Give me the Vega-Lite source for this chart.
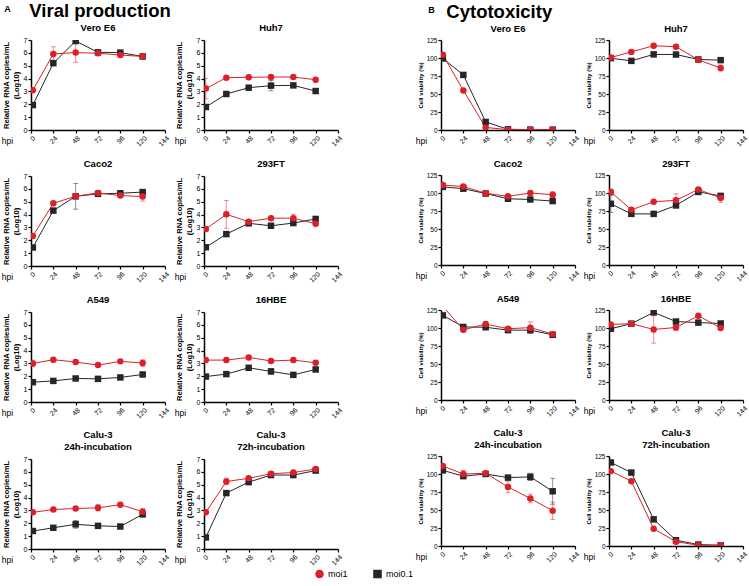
{
"$schema":"https://vega.github.io/schema/vega-lite/v6.json",
"padding":{"left":1,"top":2,"right":2,"bottom":2},
"background":"white",
"config":{
 "view":{"stroke":null},
 "font":"Liberation Sans",
 "axis":{"domainColor":"#000","domainWidth":1.5,"tickColor":"#000","tickSize":3,"tickWidth":1.2,"labelFontSize":7,"labelColor":"#000","grid":false,"titleFontSize":7.6,"titleFontWeight":"bold","titleColor":"#000","labelPadding":1,"titlePadding":3},
 "axisX":{"titleAngle":0,"titleFontWeight":"normal","titleFontSize":8.5,"titleY":10,"titleAlign":"center","titleBaseline":"middle"},
 "title":{"fontSize":9.5,"fontWeight":"bold","frame":"group","offset":4,"color":"#000"},
 "legend":{"direction":"horizontal","labelFontSize":9,"symbolSize":50,"symbolOpacity":1,"columnPadding":22,"title":null}
},
"datasets":{"d":[
{"c":"A1","s":"moi0.1","t":2,"v":1.94},{"c":"A1","s":"moi0.1","t":24,"v":5.2},{"c":"A1","s":"moi0.1","t":48,"v":6.92},{"c":"A1","s":"moi0.1","t":72,"v":6.04},{"c":"A1","s":"moi0.1","t":96,"v":6.02},{"c":"A1","s":"moi0.1","t":120,"v":5.72},
{"c":"A1","s":"moi1","t":2,"v":3.1},{"c":"A1","s":"moi1","t":24,"v":5.92,"e":0.55},{"c":"A1","s":"moi1","t":48,"v":6.02,"e":0.75},{"c":"A1","s":"moi1","t":72,"v":5.97},{"c":"A1","s":"moi1","t":96,"v":5.83},{"c":"A1","s":"moi1","t":120,"v":5.72},
{"c":"A2","s":"moi0.1","t":2,"v":1.79},{"c":"A2","s":"moi0.1","t":24,"v":2.8},{"c":"A2","s":"moi0.1","t":48,"v":3.29},{"c":"A2","s":"moi0.1","t":72,"v":3.45,"e":0.4},{"c":"A2","s":"moi0.1","t":96,"v":3.47},{"c":"A2","s":"moi0.1","t":120,"v":3.03},
{"c":"A2","s":"moi1","t":2,"v":3.22,"e":0.8},{"c":"A2","s":"moi1","t":24,"v":4.07},{"c":"A2","s":"moi1","t":48,"v":4.1},{"c":"A2","s":"moi1","t":72,"v":4.12},{"c":"A2","s":"moi1","t":96,"v":4.12},{"c":"A2","s":"moi1","t":120,"v":3.91},
{"c":"A3","s":"moi0.1","t":2,"v":1.44},{"c":"A3","s":"moi0.1","t":24,"v":4.31},{"c":"A3","s":"moi0.1","t":48,"v":5.42,"e":1.0},{"c":"A3","s":"moi0.1","t":72,"v":5.61},{"c":"A3","s":"moi0.1","t":96,"v":5.66},{"c":"A3","s":"moi0.1","t":120,"v":5.75,"e":0.1},
{"c":"A3","s":"moi1","t":2,"v":2.34},{"c":"A3","s":"moi1","t":24,"v":4.88},{"c":"A3","s":"moi1","t":48,"v":5.43},{"c":"A3","s":"moi1","t":72,"v":5.68},{"c":"A3","s":"moi1","t":96,"v":5.48},{"c":"A3","s":"moi1","t":120,"v":5.4,"e":0.35},
{"c":"A4","s":"moi0.1","t":2,"v":1.46},{"c":"A4","s":"moi0.1","t":24,"v":2.48},{"c":"A4","s":"moi0.1","t":48,"v":3.32},{"c":"A4","s":"moi0.1","t":72,"v":3.13},{"c":"A4","s":"moi0.1","t":96,"v":3.34},{"c":"A4","s":"moi0.1","t":120,"v":3.66},
{"c":"A4","s":"moi1","t":2,"v":2.88},{"c":"A4","s":"moi1","t":24,"v":4.02,"e":1.08},{"c":"A4","s":"moi1","t":48,"v":3.45},{"c":"A4","s":"moi1","t":72,"v":3.72},{"c":"A4","s":"moi1","t":96,"v":3.72,"e":0.3},{"c":"A4","s":"moi1","t":120,"v":3.29},
{"c":"A5","s":"moi0.1","t":2,"v":1.54},{"c":"A5","s":"moi0.1","t":24,"v":1.64},{"c":"A5","s":"moi0.1","t":48,"v":1.83},{"c":"A5","s":"moi0.1","t":72,"v":1.8},{"c":"A5","s":"moi0.1","t":96,"v":1.91},{"c":"A5","s":"moi0.1","t":120,"v":2.14},
{"c":"A5","s":"moi1","t":2,"v":3.0,"e":0.25},{"c":"A5","s":"moi1","t":24,"v":3.29},{"c":"A5","s":"moi1","t":48,"v":3.11},{"c":"A5","s":"moi1","t":72,"v":2.87},{"c":"A5","s":"moi1","t":96,"v":3.16},{"c":"A5","s":"moi1","t":120,"v":3.03,"e":0.25},
{"c":"A6","s":"moi0.1","t":2,"v":1.98},{"c":"A6","s":"moi0.1","t":24,"v":2.17},{"c":"A6","s":"moi0.1","t":48,"v":2.66},{"c":"A6","s":"moi0.1","t":72,"v":2.38,"e":0.2},{"c":"A6","s":"moi0.1","t":96,"v":2.11},{"c":"A6","s":"moi0.1","t":120,"v":2.53},
{"c":"A6","s":"moi1","t":2,"v":3.26},{"c":"A6","s":"moi1","t":24,"v":3.26},{"c":"A6","s":"moi1","t":48,"v":3.47},{"c":"A6","s":"moi1","t":72,"v":3.19},{"c":"A6","s":"moi1","t":96,"v":3.26},{"c":"A6","s":"moi1","t":120,"v":3.05},
{"c":"A7","s":"moi0.1","t":2,"v":1.4},{"c":"A7","s":"moi0.1","t":24,"v":1.65},{"c":"A7","s":"moi0.1","t":48,"v":1.92,"e":0.3},{"c":"A7","s":"moi0.1","t":72,"v":1.8},{"c":"A7","s":"moi0.1","t":96,"v":1.75},{"c":"A7","s":"moi0.1","t":120,"v":2.7,"e":0.2},
{"c":"A7","s":"moi1","t":2,"v":2.85},{"c":"A7","s":"moi1","t":24,"v":3.07},{"c":"A7","s":"moi1","t":48,"v":3.15},{"c":"A7","s":"moi1","t":72,"v":3.2,"e":0.25},{"c":"A7","s":"moi1","t":96,"v":3.45},{"c":"A7","s":"moi1","t":120,"v":2.9,"e":0.25},
{"c":"A8","s":"moi0.1","t":2,"v":0.9},{"c":"A8","s":"moi0.1","t":24,"v":4.35},{"c":"A8","s":"moi0.1","t":48,"v":5.2},{"c":"A8","s":"moi0.1","t":72,"v":5.75},{"c":"A8","s":"moi0.1","t":96,"v":5.75},{"c":"A8","s":"moi0.1","t":120,"v":6.1},
{"c":"A8","s":"moi1","t":2,"v":2.85},{"c":"A8","s":"moi1","t":24,"v":5.25,"e":0.25},{"c":"A8","s":"moi1","t":48,"v":5.5},{"c":"A8","s":"moi1","t":72,"v":5.85},{"c":"A8","s":"moi1","t":96,"v":5.95},{"c":"A8","s":"moi1","t":120,"v":6.22},
{"c":"B1","s":"moi0.1","t":2,"v":99.3},{"c":"B1","s":"moi0.1","t":24,"v":76.5},{"c":"B1","s":"moi0.1","t":48,"v":11.2},{"c":"B1","s":"moi0.1","t":72,"v":1},{"c":"B1","s":"moi0.1","t":96,"v":0.5},{"c":"B1","s":"moi0.1","t":120,"v":0.5},
{"c":"B1","s":"moi1","t":2,"v":104.5},{"c":"B1","s":"moi1","t":24,"v":55},{"c":"B1","s":"moi1","t":48,"v":3.5},{"c":"B1","s":"moi1","t":72,"v":0.5},{"c":"B1","s":"moi1","t":96,"v":0.5},{"c":"B1","s":"moi1","t":120,"v":0.5},
{"c":"B2","s":"moi0.1","t":2,"v":99.8},{"c":"B2","s":"moi0.1","t":24,"v":96},{"c":"B2","s":"moi0.1","t":48,"v":105},{"c":"B2","s":"moi0.1","t":72,"v":104.8},{"c":"B2","s":"moi0.1","t":96,"v":98},{"c":"B2","s":"moi0.1","t":120,"v":97},
{"c":"B2","s":"moi1","t":2,"v":100.7},{"c":"B2","s":"moi1","t":24,"v":108.5},{"c":"B2","s":"moi1","t":48,"v":117},{"c":"B2","s":"moi1","t":72,"v":115.7},{"c":"B2","s":"moi1","t":96,"v":97.5},{"c":"B2","s":"moi1","t":120,"v":86,"e":4},
{"c":"B3","s":"moi0.1","t":2,"v":108.5},{"c":"B3","s":"moi0.1","t":24,"v":106},{"c":"B3","s":"moi0.1","t":48,"v":99.2},{"c":"B3","s":"moi0.1","t":72,"v":92},{"c":"B3","s":"moi0.1","t":96,"v":91},{"c":"B3","s":"moi0.1","t":120,"v":88.8,"e":3},
{"c":"B3","s":"moi1","t":2,"v":111},{"c":"B3","s":"moi1","t":24,"v":109},{"c":"B3","s":"moi1","t":48,"v":99.6},{"c":"B3","s":"moi1","t":72,"v":95.4},{"c":"B3","s":"moi1","t":96,"v":100},{"c":"B3","s":"moi1","t":120,"v":97.7,"e":4},
{"c":"B4","s":"moi0.1","t":2,"v":85,"e":12},{"c":"B4","s":"moi0.1","t":24,"v":71},{"c":"B4","s":"moi0.1","t":48,"v":71},{"c":"B4","s":"moi0.1","t":72,"v":82.7},{"c":"B4","s":"moi0.1","t":96,"v":101.5},{"c":"B4","s":"moi0.1","t":120,"v":96},
{"c":"B4","s":"moi1","t":2,"v":101.5,"e":4},{"c":"B4","s":"moi1","t":24,"v":76.6},{"c":"B4","s":"moi1","t":48,"v":87.9},{"c":"B4","s":"moi1","t":72,"v":89.8,"e":9},{"c":"B4","s":"moi1","t":96,"v":105},{"c":"B4","s":"moi1","t":120,"v":93,"e":6},
{"c":"B5","s":"moi0.1","t":2,"v":117.5},{"c":"B5","s":"moi0.1","t":24,"v":101.5},{"c":"B5","s":"moi0.1","t":48,"v":101},{"c":"B5","s":"moi0.1","t":72,"v":97},{"c":"B5","s":"moi0.1","t":96,"v":97},{"c":"B5","s":"moi0.1","t":120,"v":90.5},
{"c":"B5","s":"moi1","t":2,"v":130},{"c":"B5","s":"moi1","t":24,"v":97.5},{"c":"B5","s":"moi1","t":48,"v":105.4},{"c":"B5","s":"moi1","t":72,"v":99},{"c":"B5","s":"moi1","t":96,"v":100.5,"e":8},{"c":"B5","s":"moi1","t":120,"v":91.5,"e":3},
{"c":"B6","s":"moi0.1","t":2,"v":99},{"c":"B6","s":"moi0.1","t":24,"v":106},{"c":"B6","s":"moi0.1","t":48,"v":121.7},{"c":"B6","s":"moi0.1","t":72,"v":109},{"c":"B6","s":"moi0.1","t":96,"v":107.5},{"c":"B6","s":"moi0.1","t":120,"v":106.3},
{"c":"B6","s":"moi1","t":2,"v":105},{"c":"B6","s":"moi1","t":24,"v":106},{"c":"B6","s":"moi1","t":48,"v":98,"e":19},{"c":"B6","s":"moi1","t":72,"v":100.7,"e":4},{"c":"B6","s":"moi1","t":96,"v":117},{"c":"B6","s":"moi1","t":120,"v":100},
{"c":"B7","s":"moi0.1","t":2,"v":105},{"c":"B7","s":"moi0.1","t":24,"v":97},{"c":"B7","s":"moi0.1","t":48,"v":100},{"c":"B7","s":"moi0.1","t":72,"v":95},{"c":"B7","s":"moi0.1","t":96,"v":96,"e":5},{"c":"B7","s":"moi0.1","t":120,"v":76,"e":18},
{"c":"B7","s":"moi1","t":2,"v":111},{"c":"B7","s":"moi1","t":24,"v":100,"e":5},{"c":"B7","s":"moi1","t":48,"v":101},{"c":"B7","s":"moi1","t":72,"v":82,"e":8},{"c":"B7","s":"moi1","t":96,"v":66,"e":6},{"c":"B7","s":"moi1","t":120,"v":49,"e":12},
{"c":"B8","s":"moi0.1","t":2,"v":116},{"c":"B8","s":"moi0.1","t":24,"v":102},{"c":"B8","s":"moi0.1","t":48,"v":37},{"c":"B8","s":"moi0.1","t":72,"v":8},{"c":"B8","s":"moi0.1","t":96,"v":2},{"c":"B8","s":"moi0.1","t":120,"v":1},
{"c":"B8","s":"moi1","t":2,"v":104},{"c":"B8","s":"moi1","t":24,"v":90},{"c":"B8","s":"moi1","t":48,"v":24},{"c":"B8","s":"moi1","t":72,"v":6},{"c":"B8","s":"moi1","t":96,"v":1},{"c":"B8","s":"moi1","t":120,"v":1}
]},
"data":{"name":"d"},
"hconcat":[
{"title":{"text":"A","fontSize":9,"anchor":"start","frame":"bounds","offset":0,"dx":3,"dy":12},
 "vconcat":[{"title":{"text":"Viral production","fontSize":18.5,"anchor":"start","frame":"bounds","offset":2,"dx":28},
 "spacing":10,
 "vconcat":[
 {"spacing":4,"hconcat":[
  {"title":"Vero E6","width":134,"height":90,"transform":[{"filter":"datum.c=='A1'"}],
   "encoding":{"x":{"field":"t","type":"quantitative","title":"hpi","scale":{"domain":[0,144]},"axis":{"values":[0,24,48,72,96,120,144],"labelAngle":-45,"titleX":-24}},
    "y":{"field":"v","type":"quantitative","title":["Relative RNA copies/mL","(Log10)"],"scale":{"domain":[0,7]},"axis":{"values":[0,1,2,3,4,5,6,7]}},
    "color":{"field":"s","type":"nominal","title":null,"scale":{"domain":["moi1","moi0.1"],"range":["#dc2028","#262626"]},"legend":{"orient":"none","legendX":284,"legendY":529,"direction":"horizontal","symbolOpacity":1}}},
   "layer":[
    {"transform":[{"filter":"datum.e>0"}],"mark":{"type":"errorbar","ticks":{"size":5,"opacity":0.5},"rule":{"opacity":0.5}},"encoding":{"yError":{"field":"e"}}},
    {"mark":{"type":"line","strokeWidth":1,"clip":true},"encoding":{}},
    {"mark":{"type":"point","filled":true,"opacity":1,"size":42,"clip":true},"encoding":{"shape":{"field":"s","type":"nominal","title":null,"scale":{"domain":["moi1","moi0.1"],"range":["circle","square"]},"legend":{"orient":"none","legendX":284,"legendY":529,"direction":"horizontal","symbolOpacity":1}}}}]},
  {"title":"Huh7","width":134,"height":90,"transform":[{"filter":"datum.c=='A2'"}],
   "encoding":{"x":{"field":"t","type":"quantitative","title":"hpi","scale":{"domain":[0,144]},"axis":{"values":[0,24,48,72,96,120,144],"labelAngle":-45,"titleX":-24}},
    "y":{"field":"v","type":"quantitative","title":["Relative RNA copies/mL","(Log10)"],"scale":{"domain":[0,7]},"axis":{"values":[0,1,2,3,4,5,6,7]}},
    "color":{"field":"s","type":"nominal","title":null,"scale":{"domain":["moi1","moi0.1"],"range":["#dc2028","#262626"]}}},
   "layer":[
    {"transform":[{"filter":"datum.e>0"}],"mark":{"type":"errorbar","ticks":{"size":5,"opacity":0.5},"rule":{"opacity":0.5}},"encoding":{"yError":{"field":"e"}}},
    {"mark":{"type":"line","strokeWidth":1,"clip":true},"encoding":{}},
    {"mark":{"type":"point","filled":true,"opacity":1,"size":42,"clip":true},"encoding":{"shape":{"field":"s","type":"nominal","title":null,"scale":{"domain":["moi1","moi0.1"],"range":["circle","square"]}}}}]}
 ]},
 {"spacing":4,"hconcat":[
  {"title":"Caco2","width":134,"height":90,"transform":[{"filter":"datum.c=='A3'"}],
   "encoding":{"x":{"field":"t","type":"quantitative","title":"hpi","scale":{"domain":[0,144]},"axis":{"values":[0,24,48,72,96,120,144],"labelAngle":-45,"titleX":-24}},
    "y":{"field":"v","type":"quantitative","title":["Relative RNA copies/mL","(Log10)"],"scale":{"domain":[0,7]},"axis":{"values":[0,1,2,3,4,5,6,7]}},
    "color":{"field":"s","type":"nominal","title":null,"scale":{"domain":["moi1","moi0.1"],"range":["#dc2028","#262626"]}}},
   "layer":[
    {"transform":[{"filter":"datum.e>0"}],"mark":{"type":"errorbar","ticks":{"size":5,"opacity":0.5},"rule":{"opacity":0.5}},"encoding":{"yError":{"field":"e"}}},
    {"mark":{"type":"line","strokeWidth":1,"clip":true},"encoding":{}},
    {"mark":{"type":"point","filled":true,"opacity":1,"size":42,"clip":true},"encoding":{"shape":{"field":"s","type":"nominal","title":null,"scale":{"domain":["moi1","moi0.1"],"range":["circle","square"]}}}}]},
  {"title":"293FT","width":134,"height":90,"transform":[{"filter":"datum.c=='A4'"}],
   "encoding":{"x":{"field":"t","type":"quantitative","title":"hpi","scale":{"domain":[0,144]},"axis":{"values":[0,24,48,72,96,120,144],"labelAngle":-45,"titleX":-24}},
    "y":{"field":"v","type":"quantitative","title":["Relative RNA copies/mL","(Log10)"],"scale":{"domain":[0,7]},"axis":{"values":[0,1,2,3,4,5,6,7]}},
    "color":{"field":"s","type":"nominal","title":null,"scale":{"domain":["moi1","moi0.1"],"range":["#dc2028","#262626"]}}},
   "layer":[
    {"transform":[{"filter":"datum.e>0"}],"mark":{"type":"errorbar","ticks":{"size":5,"opacity":0.5},"rule":{"opacity":0.5}},"encoding":{"yError":{"field":"e"}}},
    {"mark":{"type":"line","strokeWidth":1,"clip":true},"encoding":{}},
    {"mark":{"type":"point","filled":true,"opacity":1,"size":42,"clip":true},"encoding":{"shape":{"field":"s","type":"nominal","title":null,"scale":{"domain":["moi1","moi0.1"],"range":["circle","square"]}}}}]}
 ]},
 {"spacing":4,"hconcat":[
  {"title":"A549","width":134,"height":90,"transform":[{"filter":"datum.c=='A5'"}],
   "encoding":{"x":{"field":"t","type":"quantitative","title":"hpi","scale":{"domain":[0,144]},"axis":{"values":[0,24,48,72,96,120,144],"labelAngle":-45,"titleX":-24}},
    "y":{"field":"v","type":"quantitative","title":["Relative RNA copies/mL","(Log10)"],"scale":{"domain":[0,7]},"axis":{"values":[0,1,2,3,4,5,6,7]}},
    "color":{"field":"s","type":"nominal","title":null,"scale":{"domain":["moi1","moi0.1"],"range":["#dc2028","#262626"]}}},
   "layer":[
    {"transform":[{"filter":"datum.e>0"}],"mark":{"type":"errorbar","ticks":{"size":5,"opacity":0.5},"rule":{"opacity":0.5}},"encoding":{"yError":{"field":"e"}}},
    {"mark":{"type":"line","strokeWidth":1,"clip":true},"encoding":{}},
    {"mark":{"type":"point","filled":true,"opacity":1,"size":42,"clip":true},"encoding":{"shape":{"field":"s","type":"nominal","title":null,"scale":{"domain":["moi1","moi0.1"],"range":["circle","square"]}}}}]},
  {"title":"16HBE","width":134,"height":90,"transform":[{"filter":"datum.c=='A6'"}],
   "encoding":{"x":{"field":"t","type":"quantitative","title":"hpi","scale":{"domain":[0,144]},"axis":{"values":[0,24,48,72,96,120,144],"labelAngle":-45,"titleX":-24}},
    "y":{"field":"v","type":"quantitative","title":["Relative RNA copies/mL","(Log10)"],"scale":{"domain":[0,7]},"axis":{"values":[0,1,2,3,4,5,6,7]}},
    "color":{"field":"s","type":"nominal","title":null,"scale":{"domain":["moi1","moi0.1"],"range":["#dc2028","#262626"]}}},
   "layer":[
    {"transform":[{"filter":"datum.e>0"}],"mark":{"type":"errorbar","ticks":{"size":5,"opacity":0.5},"rule":{"opacity":0.5}},"encoding":{"yError":{"field":"e"}}},
    {"mark":{"type":"line","strokeWidth":1,"clip":true},"encoding":{}},
    {"mark":{"type":"point","filled":true,"opacity":1,"size":42,"clip":true},"encoding":{"shape":{"field":"s","type":"nominal","title":null,"scale":{"domain":["moi1","moi0.1"],"range":["circle","square"]}}}}]}
 ]},
 {"spacing":4,"hconcat":[
  {"title":{"text":["Calu-3","24h-incubation"]},"width":134,"height":90,"transform":[{"filter":"datum.c=='A7'"}],
   "encoding":{"x":{"field":"t","type":"quantitative","title":"hpi","scale":{"domain":[0,144]},"axis":{"values":[0,24,48,72,96,120,144],"labelAngle":-45,"titleX":-24}},
    "y":{"field":"v","type":"quantitative","title":["Relative RNA copies/mL","(Log10)"],"scale":{"domain":[0,7]},"axis":{"values":[0,1,2,3,4,5,6,7]}},
    "color":{"field":"s","type":"nominal","title":null,"scale":{"domain":["moi1","moi0.1"],"range":["#dc2028","#262626"]}}},
   "layer":[
    {"transform":[{"filter":"datum.e>0"}],"mark":{"type":"errorbar","ticks":{"size":5,"opacity":0.5},"rule":{"opacity":0.5}},"encoding":{"yError":{"field":"e"}}},
    {"mark":{"type":"line","strokeWidth":1,"clip":true},"encoding":{}},
    {"mark":{"type":"point","filled":true,"opacity":1,"size":42,"clip":true},"encoding":{"shape":{"field":"s","type":"nominal","title":null,"scale":{"domain":["moi1","moi0.1"],"range":["circle","square"]}}}}]},
  {"title":{"text":["Calu-3","72h-incubation"]},"width":134,"height":90,"transform":[{"filter":"datum.c=='A8'"}],
   "encoding":{"x":{"field":"t","type":"quantitative","title":"hpi","scale":{"domain":[0,144]},"axis":{"values":[0,24,48,72,96,120,144],"labelAngle":-45,"titleX":-24}},
    "y":{"field":"v","type":"quantitative","title":["Relative RNA copies/mL","(Log10)"],"scale":{"domain":[0,7]},"axis":{"values":[0,1,2,3,4,5,6,7]}},
    "color":{"field":"s","type":"nominal","title":null,"scale":{"domain":["moi1","moi0.1"],"range":["#dc2028","#262626"]}}},
   "layer":[
    {"transform":[{"filter":"datum.e>0"}],"mark":{"type":"errorbar","ticks":{"size":5,"opacity":0.5},"rule":{"opacity":0.5}},"encoding":{"yError":{"field":"e"}}},
    {"mark":{"type":"line","strokeWidth":1,"clip":true},"encoding":{}},
    {"mark":{"type":"point","filled":true,"opacity":1,"size":42,"clip":true},"encoding":{"shape":{"field":"s","type":"nominal","title":null,"scale":{"domain":["moi1","moi0.1"],"range":["circle","square"]}}}}]}
 ]}
 ]}]},
{"title":{"text":"B","fontSize":9,"anchor":"start","frame":"bounds","offset":0,"dx":13,"dy":12},
 "vconcat":[{"title":{"text":"Cytotoxicity","fontSize":18.5,"anchor":"start","frame":"bounds","offset":2,"dx":31},
 "spacing":10,
 "vconcat":[
 {"spacing":3,"hconcat":[
  {"title":"Vero E6","width":134,"height":90,"transform":[{"filter":"datum.c=='B1'"}],
   "encoding":{"x":{"field":"t","type":"quantitative","title":"hpi","scale":{"domain":[0,144]},"axis":{"values":[0,24,48,72,96,120,144],"labelAngle":-45,"titleX":-20}},
    "y":{"field":"v","type":"quantitative","title":"Cell viability (%)","scale":{"domain":[0,125]},"axis":{"values":[0,25,50,75,100,125],"titleFontSize":6,"labelFontSize":6.5}},
    "color":{"field":"s","type":"nominal","title":null,"scale":{"domain":["moi1","moi0.1"],"range":["#dc2028","#262626"]}}},
   "layer":[
    {"transform":[{"filter":"datum.e>0"}],"mark":{"type":"errorbar","ticks":{"size":5,"opacity":0.5},"rule":{"opacity":0.5}},"encoding":{"yError":{"field":"e"}}},
    {"mark":{"type":"line","strokeWidth":1,"clip":true},"encoding":{}},
    {"mark":{"type":"point","filled":true,"opacity":1,"size":42,"clip":true},"encoding":{"shape":{"field":"s","type":"nominal","title":null,"scale":{"domain":["moi1","moi0.1"],"range":["circle","square"]}}}}]},
  {"title":"Huh7","width":134,"height":90,"transform":[{"filter":"datum.c=='B2'"}],
   "encoding":{"x":{"field":"t","type":"quantitative","title":"hpi","scale":{"domain":[0,144]},"axis":{"values":[0,24,48,72,96,120,144],"labelAngle":-45,"titleX":-20}},
    "y":{"field":"v","type":"quantitative","title":"Cell viability (%)","scale":{"domain":[0,125]},"axis":{"values":[0,25,50,75,100,125],"titleFontSize":6,"labelFontSize":6.5}},
    "color":{"field":"s","type":"nominal","title":null,"scale":{"domain":["moi1","moi0.1"],"range":["#dc2028","#262626"]}}},
   "layer":[
    {"transform":[{"filter":"datum.e>0"}],"mark":{"type":"errorbar","ticks":{"size":5,"opacity":0.5},"rule":{"opacity":0.5}},"encoding":{"yError":{"field":"e"}}},
    {"mark":{"type":"line","strokeWidth":1,"clip":true},"encoding":{}},
    {"mark":{"type":"point","filled":true,"opacity":1,"size":42,"clip":true},"encoding":{"shape":{"field":"s","type":"nominal","title":null,"scale":{"domain":["moi1","moi0.1"],"range":["circle","square"]}}}}]}
 ]},
 {"spacing":3,"hconcat":[
  {"title":"Caco2","width":134,"height":90,"transform":[{"filter":"datum.c=='B3'"}],
   "encoding":{"x":{"field":"t","type":"quantitative","title":"hpi","scale":{"domain":[0,144]},"axis":{"values":[0,24,48,72,96,120,144],"labelAngle":-45,"titleX":-20}},
    "y":{"field":"v","type":"quantitative","title":"Cell viability (%)","scale":{"domain":[0,125]},"axis":{"values":[0,25,50,75,100,125],"titleFontSize":6,"labelFontSize":6.5}},
    "color":{"field":"s","type":"nominal","title":null,"scale":{"domain":["moi1","moi0.1"],"range":["#dc2028","#262626"]}}},
   "layer":[
    {"transform":[{"filter":"datum.e>0"}],"mark":{"type":"errorbar","ticks":{"size":5,"opacity":0.5},"rule":{"opacity":0.5}},"encoding":{"yError":{"field":"e"}}},
    {"mark":{"type":"line","strokeWidth":1,"clip":true},"encoding":{}},
    {"mark":{"type":"point","filled":true,"opacity":1,"size":42,"clip":true},"encoding":{"shape":{"field":"s","type":"nominal","title":null,"scale":{"domain":["moi1","moi0.1"],"range":["circle","square"]}}}}]},
  {"title":"293FT","width":134,"height":90,"transform":[{"filter":"datum.c=='B4'"}],
   "encoding":{"x":{"field":"t","type":"quantitative","title":"hpi","scale":{"domain":[0,144]},"axis":{"values":[0,24,48,72,96,120,144],"labelAngle":-45,"titleX":-20}},
    "y":{"field":"v","type":"quantitative","title":"Cell viability (%)","scale":{"domain":[0,125]},"axis":{"values":[0,25,50,75,100,125],"titleFontSize":6,"labelFontSize":6.5}},
    "color":{"field":"s","type":"nominal","title":null,"scale":{"domain":["moi1","moi0.1"],"range":["#dc2028","#262626"]}}},
   "layer":[
    {"transform":[{"filter":"datum.e>0"}],"mark":{"type":"errorbar","ticks":{"size":5,"opacity":0.5},"rule":{"opacity":0.5}},"encoding":{"yError":{"field":"e"}}},
    {"mark":{"type":"line","strokeWidth":1,"clip":true},"encoding":{}},
    {"mark":{"type":"point","filled":true,"opacity":1,"size":42,"clip":true},"encoding":{"shape":{"field":"s","type":"nominal","title":null,"scale":{"domain":["moi1","moi0.1"],"range":["circle","square"]}}}}]}
 ]},
 {"spacing":3,"hconcat":[
  {"title":"A549","width":134,"height":90,"transform":[{"filter":"datum.c=='B5'"}],
   "encoding":{"x":{"field":"t","type":"quantitative","title":"hpi","scale":{"domain":[0,144]},"axis":{"values":[0,24,48,72,96,120,144],"labelAngle":-45,"titleX":-20}},
    "y":{"field":"v","type":"quantitative","title":"Cell viability (%)","scale":{"domain":[0,125]},"axis":{"values":[0,25,50,75,100,125],"titleFontSize":6,"labelFontSize":6.5}},
    "color":{"field":"s","type":"nominal","title":null,"scale":{"domain":["moi1","moi0.1"],"range":["#dc2028","#262626"]}}},
   "layer":[
    {"transform":[{"filter":"datum.e>0"}],"mark":{"type":"errorbar","ticks":{"size":5,"opacity":0.5},"rule":{"opacity":0.5}},"encoding":{"yError":{"field":"e"}}},
    {"mark":{"type":"line","strokeWidth":1,"clip":true},"encoding":{}},
    {"mark":{"type":"point","filled":true,"opacity":1,"size":42,"clip":true},"encoding":{"shape":{"field":"s","type":"nominal","title":null,"scale":{"domain":["moi1","moi0.1"],"range":["circle","square"]}}}}]},
  {"title":"16HBE","width":134,"height":90,"transform":[{"filter":"datum.c=='B6'"}],
   "encoding":{"x":{"field":"t","type":"quantitative","title":"hpi","scale":{"domain":[0,144]},"axis":{"values":[0,24,48,72,96,120,144],"labelAngle":-45,"titleX":-20}},
    "y":{"field":"v","type":"quantitative","title":"Cell viability (%)","scale":{"domain":[0,125]},"axis":{"values":[0,25,50,75,100,125],"titleFontSize":6,"labelFontSize":6.5}},
    "color":{"field":"s","type":"nominal","title":null,"scale":{"domain":["moi1","moi0.1"],"range":["#dc2028","#262626"]}}},
   "layer":[
    {"transform":[{"filter":"datum.e>0"}],"mark":{"type":"errorbar","ticks":{"size":5,"opacity":0.5},"rule":{"opacity":0.5}},"encoding":{"yError":{"field":"e"}}},
    {"mark":{"type":"line","strokeWidth":1,"clip":true},"encoding":{}},
    {"mark":{"type":"point","filled":true,"opacity":1,"size":42,"clip":true},"encoding":{"shape":{"field":"s","type":"nominal","title":null,"scale":{"domain":["moi1","moi0.1"],"range":["circle","square"]}}}}]}
 ]},
 {"spacing":3,"hconcat":[
  {"title":{"text":["Calu-3","24h-incubation"]},"width":134,"height":90,"transform":[{"filter":"datum.c=='B7'"}],
   "encoding":{"x":{"field":"t","type":"quantitative","title":"hpi","scale":{"domain":[0,144]},"axis":{"values":[0,24,48,72,96,120,144],"labelAngle":-45,"titleX":-20}},
    "y":{"field":"v","type":"quantitative","title":"Cell viability (%)","scale":{"domain":[0,125]},"axis":{"values":[0,25,50,75,100,125],"titleFontSize":6,"labelFontSize":6.5}},
    "color":{"field":"s","type":"nominal","title":null,"scale":{"domain":["moi1","moi0.1"],"range":["#dc2028","#262626"]}}},
   "layer":[
    {"transform":[{"filter":"datum.e>0"}],"mark":{"type":"errorbar","ticks":{"size":5,"opacity":0.5},"rule":{"opacity":0.5}},"encoding":{"yError":{"field":"e"}}},
    {"mark":{"type":"line","strokeWidth":1,"clip":true},"encoding":{}},
    {"mark":{"type":"point","filled":true,"opacity":1,"size":42,"clip":true},"encoding":{"shape":{"field":"s","type":"nominal","title":null,"scale":{"domain":["moi1","moi0.1"],"range":["circle","square"]}}}}]},
  {"title":{"text":["Calu-3","72h-incubation"]},"width":134,"height":90,"transform":[{"filter":"datum.c=='B8'"}],
   "encoding":{"x":{"field":"t","type":"quantitative","title":"hpi","scale":{"domain":[0,144]},"axis":{"values":[0,24,48,72,96,120,144],"labelAngle":-45,"titleX":-20}},
    "y":{"field":"v","type":"quantitative","title":"Cell viability (%)","scale":{"domain":[0,125]},"axis":{"values":[0,25,50,75,100,125],"titleFontSize":6,"labelFontSize":6.5}},
    "color":{"field":"s","type":"nominal","title":null,"scale":{"domain":["moi1","moi0.1"],"range":["#dc2028","#262626"]}}},
   "layer":[
    {"transform":[{"filter":"datum.e>0"}],"mark":{"type":"errorbar","ticks":{"size":5,"opacity":0.5},"rule":{"opacity":0.5}},"encoding":{"yError":{"field":"e"}}},
    {"mark":{"type":"line","strokeWidth":1,"clip":true},"encoding":{}},
    {"mark":{"type":"point","filled":true,"opacity":1,"size":42,"clip":true},"encoding":{"shape":{"field":"s","type":"nominal","title":null,"scale":{"domain":["moi1","moi0.1"],"range":["circle","square"]}}}}]}
 ]}
 ]}]}
],
"spacing":72
}
